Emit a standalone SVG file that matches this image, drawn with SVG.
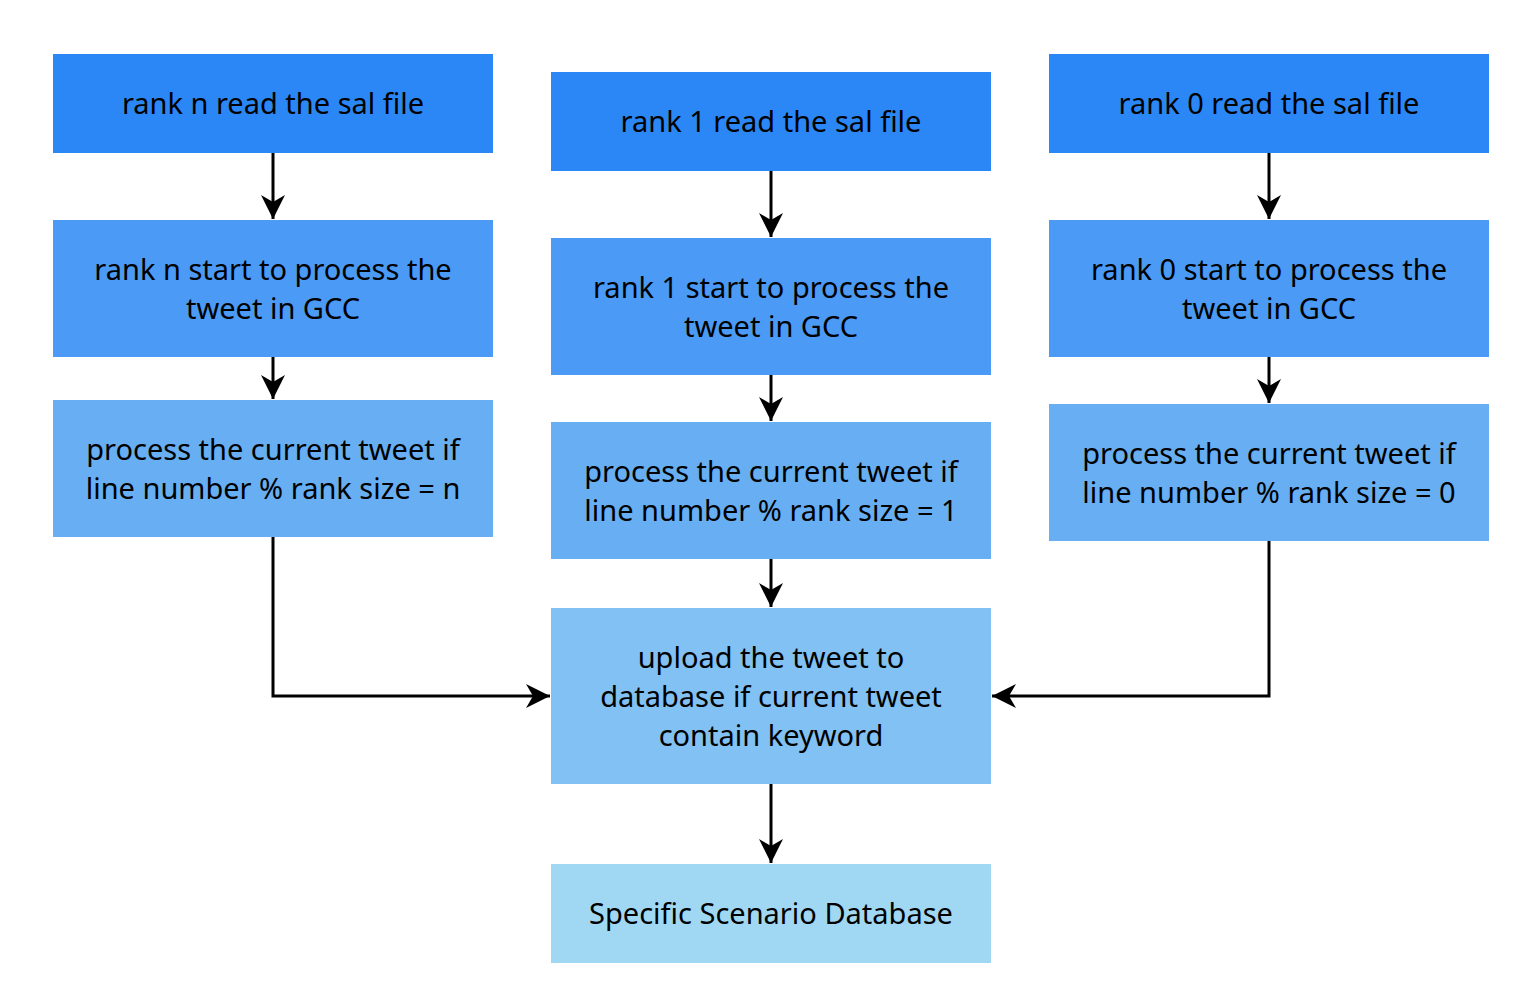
<svg xmlns="http://www.w3.org/2000/svg" width="1532" height="1008" viewBox="0 0 1532 1008">
<style>
text{font-family:"Noto Sans",Lato,sans-serif;font-size:29px;fill:#000;text-anchor:middle;font-variant-ligatures:none}
.c1{fill:#2B87F6}.c2{fill:#4B9AF6}.c3{fill:#68AEF3}.c4{fill:#82C1F3}.c5{fill:#A0D8F3}
.e{fill:none;stroke:#000;stroke-width:3;marker-end:url(#ah)}
</style>
<defs>
<marker id="ah" markerUnits="userSpaceOnUse" markerWidth="24" markerHeight="24" viewBox="0 0 24 24" refX="24" refY="12" orient="auto">
<path d="M0,0 L24,12 L0,24 L7,12 z" fill="#000"/>
</marker>
</defs>
<rect width="1532" height="1008" fill="#fff"/>
<g id="connectors">
<path class="e" d="M273,153 V219"/>
<path class="e" d="M273,357 V399"/>
<path class="e" d="M273,537 V696 H550"/>
<path class="e" d="M771,171 V237"/>
<path class="e" d="M771,375 V421"/>
<path class="e" d="M771,559 V607"/>
<path class="e" d="M771,784 V863"/>
<path class="e" d="M1269,153 V219"/>
<path class="e" d="M1269,357 V403"/>
<path class="e" d="M1269,541 V696 H992"/>
</g>
<g id="n_rank_n_read"><rect class="c1" x="53" y="54" width="440" height="99"/><text x="273" y="114">rank n read the sal file</text></g>
<g id="n_rank_n_start"><rect class="c2" x="53" y="220" width="440" height="137"/><text x="273" y="280">rank n start to process the</text><text x="273" y="319">tweet in GCC</text></g>
<g id="n_rank_n_proc"><rect class="c3" x="53" y="400" width="440" height="137"/><text x="273" y="460">process the current tweet if</text><text x="273" y="499">line number % rank size = n</text></g>
<g id="n_rank_1_read"><rect class="c1" x="551" y="72" width="440" height="99"/><text x="771" y="132">rank 1 read the sal file</text></g>
<g id="n_rank_1_start"><rect class="c2" x="551" y="238" width="440" height="137"/><text x="771" y="298">rank 1 start to process the</text><text x="771" y="337">tweet in GCC</text></g>
<g id="n_rank_1_proc"><rect class="c3" x="551" y="422" width="440" height="137"/><text x="771" y="482">process the current tweet if</text><text x="771" y="521">line number % rank size = 1</text></g>
<g id="n_upload"><rect class="c4" x="551" y="608" width="440" height="176"/><text x="771" y="668">upload the tweet to</text><text x="771" y="707">database if current tweet</text><text x="771" y="746">contain keyword</text></g>
<g id="n_db"><rect class="c5" x="551" y="864" width="440" height="99"/><text x="771" y="924">Specific Scenario Database</text></g>
<g id="n_rank_0_read"><rect class="c1" x="1049" y="54" width="440" height="99"/><text x="1269" y="114">rank 0 read the sal file</text></g>
<g id="n_rank_0_start"><rect class="c2" x="1049" y="220" width="440" height="137"/><text x="1269" y="280">rank 0 start to process the</text><text x="1269" y="319">tweet in GCC</text></g>
<g id="n_rank_0_proc"><rect class="c3" x="1049" y="404" width="440" height="137"/><text x="1269" y="464">process the current tweet if</text><text x="1269" y="503">line number % rank size = 0</text></g>
</svg>
